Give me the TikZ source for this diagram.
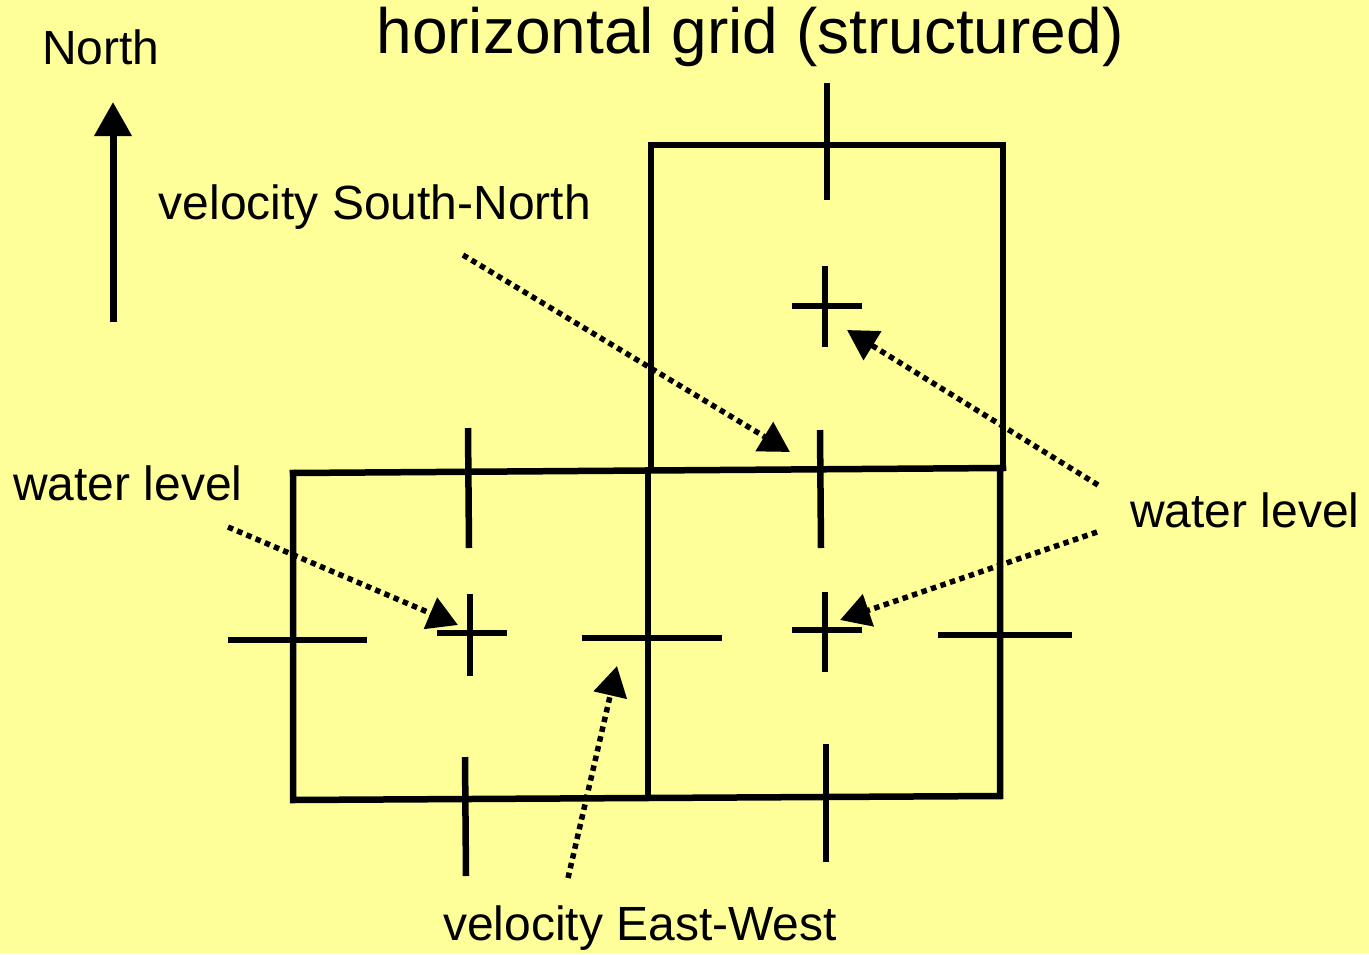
\documentclass[tikz,border=0pt]{standalone}
\usepackage{fontspec}
\setmainfont{Liberation Sans}
\usetikzlibrary{arrows.meta}
\definecolor{bg}{HTML}{FFFF99}
\tikzset{
  grid/.style={line width=6.5pt, line cap=rect},
  tick/.style={line width=6.5pt},
  ptr/.style={line width=5.5pt, dash pattern=on 5.5pt off 4.5pt, -{Triangle[length=30pt,width=33pt]}},
  lbl/.style={font=\fontsize{48}{56}\selectfont, inner sep=0pt},
}
\begin{document}
\begin{tikzpicture}[x=1pt,y=-1pt]
\fill[bg] (0,0) rectangle (1369,954);
\useasboundingbox (0,0) rectangle (1369,954);
% grid cells
\draw[grid] (651,470) -- (651,145) -- (1003,145) -- (1003,468);
\draw[grid] (293,473) -- (1003,468);
\draw[grid] (293,473) -- (293,800) -- (1000,796) -- (1000,468);
\draw[grid] (648,470) -- (648,798);
% ticks and pluses
\draw[tick] (827,83) -- (827,200);
\draw[tick] (825,266) -- (825,347);
\draw[tick] (792,306) -- (862,306);
\draw[tick] (820,430) -- (821,548);
\draw[tick] (825,592) -- (825,672);
\draw[tick] (792,630) -- (862,630);
\draw[tick] (826,744) -- (826,862);
\draw[tick] (938,635) -- (1072,635);
\draw[tick] (468,428) -- (469,548);
\draw[tick] (470,594) -- (470,676);
\draw[tick] (437,633) -- (507,633);
\draw[tick] (228,640) -- (367,640);
\draw[tick] (582,638) -- (722,638);
\draw[tick] (465,757) -- (466,876);
% labels
\node[lbl] (north) at (101,47) {North};
\node[lbl, font=\fontsize{64}{72}\selectfont] (title) at (750,37) {horizontal grid (structured)};
\node[lbl] (vsn) at (375,207) {velocity South-North};
\node[lbl] (wlL) at (128,483) {water level};
\node[lbl] (wlR) at (1245,510) {water level};
\node[lbl] (vew) at (640,928) {velocity East-West};
% arrow coordinates
\coordinate (nS) at (113,322);
\coordinate (nE) at (113,102);
\coordinate (a1s) at (463,255); \coordinate (a1e) at (790,452);
\coordinate (a2s) at (1098,485); \coordinate (a2e) at (847,330);
\coordinate (a3s) at (1097,532); \coordinate (a3e) at (840,620);
\coordinate (a4s) at (228,527); \coordinate (a4e) at (458,625);
\coordinate (a5s) at (568,878); \coordinate (a5e) at (617,666);
\draw[line width=7pt, -{Triangle[length=34pt,width=36pt]}] (nS) -- (nE);
\draw[ptr] (a1s) -- (a1e);
\draw[ptr] (a2s) -- (a2e);
\draw[ptr] (a3s) -- (a3e);
\draw[ptr] (a4s) -- (a4e);
\draw[ptr] (a5s) -- (a5e);
\end{tikzpicture}
\end{document}
